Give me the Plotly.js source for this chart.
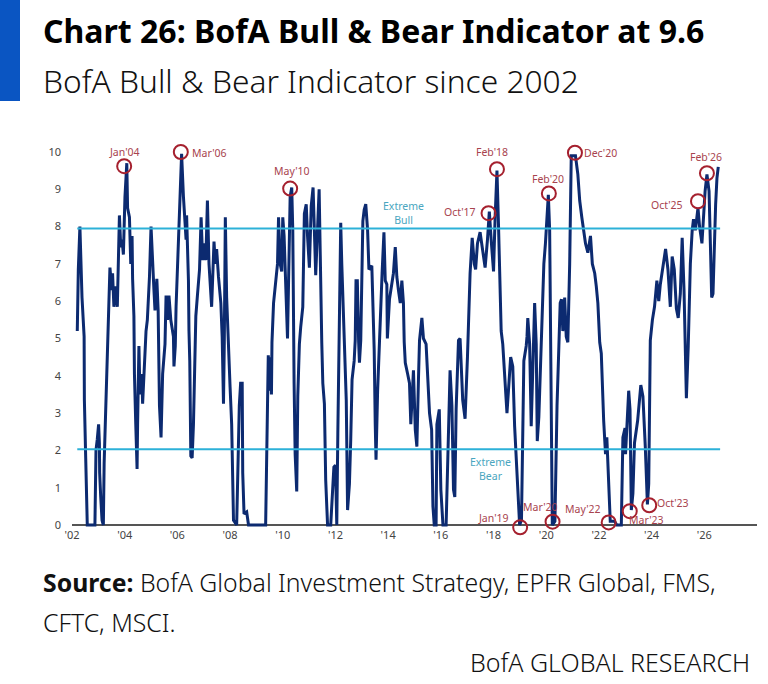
<!DOCTYPE html>
<html><head><meta charset="utf-8">
<script src="https://cdn.plot.ly/plotly-3.0.1.min.js"></script>
<style>html,body{margin:0;padding:0;background:#fff}#c{width:768px;height:684px}</style>
</head><body><div id="c"></div>
<script>
const years = [
2002.20,2002.24,2002.30,2002.33,2002.38,2002.46,2002.47,2002.52,2002.56,2002.58,2002.87,2002.91,2002.96,2003.01,2003.04,2003.05,2003.09,2003.14,2003.19,2003.22,2003.28,2003.34,2003.35,2003.39,2003.44,2003.51,2003.54,2003.59,2003.65,2003.72,2003.75,2003.80,2003.85,2003.90,2003.95,
2004.01,2004.08,2004.11,2004.18,2004.23,2004.28,2004.30,2004.35,2004.37,2004.42,2004.47,2004.49,2004.54,2004.58,2004.65,2004.68,2004.73,2004.77,2004.81,2004.86,2004.94,
2005.00,2005.05,2005.11,2005.15,2005.22,2005.27,2005.29,2005.32,2005.38,2005.44,2005.53,2005.57,2005.63,2005.68,2005.75,2005.85,2005.87,2005.92,2005.95,
2006.00,2006.10,2006.16,2006.23,2006.29,2006.33,2006.35,2006.42,2006.44,2006.47,2006.51,2006.56,2006.61,2006.65,2006.70,2006.76,2006.84,2006.90,2006.96,
2007.04,2007.08,2007.14,2007.20,2007.30,2007.39,2007.44,2007.49,2007.56,2007.65,2007.70,2007.75,2007.78,2007.82,2007.87,2007.94,
2008.00,2008.06,2008.10,2008.13,2008.25,2008.29,2008.35,2008.40,2008.46,2008.48,2008.53,2008.63,2008.70,2009.35,2009.39,2009.45,2009.52,2009.54,2009.57,2009.59,2009.65,2009.72,2009.80,2009.84,2009.90,2009.96,
2010.00,2010.05,2010.09,2010.13,2010.18,2010.28,2010.34,2010.38,2010.41,2010.43,2010.47,2010.53,2010.57,2010.63,2010.68,2010.76,2010.82,2010.89,2010.94,
2011.01,2011.08,2011.15,2011.20,2011.25,2011.38,2011.42,2011.48,2011.52,2011.58,2011.63,2011.70,2011.82,2011.89,2011.94,
2012.00,2012.05,2012.09,2012.14,2012.20,2012.24,2012.30,2012.35,2012.41,2012.46,2012.53,2012.58,2012.63,2012.71,2012.75,2012.78,2012.83,2012.88,2012.91,2012.96,
2013.04,2013.09,2013.15,2013.22,2013.27,2013.38,2013.44,2013.47,2013.51,2013.54,2013.60,2013.65,2013.70,2013.77,2013.84,2013.89,2013.95,2013.97,
2014.05,2014.14,2014.20,2014.27,2014.33,2014.39,2014.46,2014.52,2014.58,2014.61,2014.65,2014.74,2014.81,2014.86,2014.96,
2015.03,2015.09,2015.15,2015.19,2015.28,2015.34,2015.44,2015.57,2015.65,2015.70,2015.75,2015.82,2015.85,2015.94,
2016.00,2016.08,2016.20,2016.27,2016.35,2016.42,2016.48,2016.53,2016.58,2016.67,2016.73,2016.83,2016.92,
2017.01,2017.05,2017.11,2017.19,2017.27,2017.32,2017.39,2017.49,2017.58,2017.68,2017.77,2017.84,2017.92,
2018.00,2018.06,2018.13,2018.19,2018.25,2018.29,2018.35,2018.42,2018.51,2018.65,2018.73,2018.80,2018.89,2018.99,
2019.06,2019.11,2019.15,2019.24,2019.27,2019.30,2019.37,2019.43,2019.49,2019.56,2019.62,2019.66,2019.72,2019.77,2019.82,2019.91,2019.97,
2020.08,2020.13,2020.15,2020.19,2020.23,2020.33,2020.41,2020.48,2020.53,2020.58,2020.63,2020.70,2020.76,2020.82,2020.89,2020.95,
2021.11,2021.20,2021.27,2021.35,2021.43,2021.49,2021.58,2021.68,2021.75,2021.84,2021.90,2021.96,
2022.03,2022.09,2022.18,2022.25,2022.30,2022.37,2022.43,2022.59,2022.68,2022.85,2022.91,2022.99,
2023.01,2023.13,2023.18,2023.23,2023.29,2023.35,2023.47,2023.59,2023.67,2023.76,2023.84,2023.89,2023.92,2023.95,
2024.03,2024.11,2024.20,2024.27,2024.33,2024.43,2024.53,2024.62,2024.71,2024.78,2024.86,2024.94,
2025.01,2025.09,2025.16,2025.23,2025.27,2025.32,2025.39,2025.47,2025.54,2025.59,2025.66,2025.76,2025.82,2025.91,2025.97,
2026.03,2026.10,2026.18,2026.23,2026.28,2026.33,2026.38,2026.43,2026.48,2026.53];
const indicator = [
5.2,6.85,8.0,7.2,6.1,5.05,3.35,1.8,0.5,0,0,2.0,2.3,2.7,2.2,1.4,0.75,0.13,0,1.65,3.1,4.4,5.2,5.6,6.9,6.3,6.75,5.85,6.4,5.85,7.2,8.3,7.45,7.65,7.25,
8.8,9.7,8.5,8.25,7.0,7.75,6.6,5.6,4.05,2.7,1.5,2.7,4.8,3.5,4.05,3.25,4.05,4.8,5.2,5.5,6.65,
8.0,7.0,6.3,5.75,6.6,5.75,4.4,3.2,2.35,4.05,4.85,6.15,5.5,6.15,5.5,5.05,4.25,4.8,5.85,
6.85,8.45,9.95,8.8,7.9,7.65,8.3,6.55,5.2,4.4,1.85,1.8,2.7,4.4,5.6,6.15,6.85,8.25,7.1,
7.55,7.1,8.7,7.0,5.85,7.6,7.0,7.4,6.65,5.95,5.05,3.25,4.85,8.25,6.1,4.5,
3.7,2.7,1.4,0.13,0,1.4,3.2,3.8,3.8,1.4,0.3,0.35,0,0,1.8,4.55,3.6,4.5,3.5,4.9,5.95,6.4,7.0,8.25,7.0,6.8,
8.25,7.75,6.85,5.95,5.0,8.8,9.05,7.9,4.7,3.8,1.9,0.9,3.45,4.85,5.3,5.85,8.35,8.6,7.75,
6.9,8.55,9.05,7.9,6.7,9.0,7.0,4.9,3.8,3.25,1.2,0,0,1.0,1.55,
1.6,0,2.45,4.7,8.1,7.0,5.75,4.8,3.35,0.4,1.1,2.3,3.9,4.4,4.95,6.55,6.55,4.9,4.35,4.95,
8.15,8.45,8.6,7.9,6.85,6.95,5.75,4.7,2.7,1.75,3.6,4.7,5.7,6.75,7.85,6.55,6.45,5.0,
6.05,6.55,6.75,7.45,6.65,6.3,5.95,6.55,5.95,4.9,4.35,4.05,3.8,2.7,4.15,
2.55,2.1,3.9,4.95,5.55,5.0,4.85,3.0,2.55,0.5,0,0,2.7,3.1,
0.95,0,0,1.85,4.15,3.2,0.95,0.75,3.1,4.95,5.0,3.35,2.85,
4.5,5.75,6.75,7.7,7.0,6.85,7.55,7.85,7.45,6.9,7.65,8.4,7.55,
6.8,8.25,9.5,8.0,6.65,5.2,4.85,4.05,3.0,4.5,4.25,2.65,1.2,0,
0.13,2.8,4.4,4.8,5.05,5.55,4.85,2.65,4.5,5.95,4.85,2.25,2.9,4.05,5.2,7.0,7.55,
8.85,7.9,6.1,3.8,0,0.1,3.2,4.8,5.95,6.05,5.2,6.1,5.05,4.9,7.0,9.9,
9.9,9.4,8.7,8.25,7.8,7.55,7.3,7.75,7.0,6.75,6.4,5.95,
4.9,4.6,2.8,1.9,2.35,0.95,0.1,0.1,0,0,2.35,2.6,
1.9,3.6,3.1,0.4,0.85,2.2,2.8,3.75,3.45,2.1,0.55,1.1,4.05,4.95,
5.5,5.85,6.55,6.0,6.45,7.0,7.4,6.85,5.85,7.2,6.85,5.8,
5.55,6.2,7.7,6.3,5.05,3.4,4.8,7.0,7.9,8.2,7.9,8.5,8.0,7.55,8.25,
8.95,9.4,8.95,7.55,6.1,6.2,7.7,8.6,9.3,9.6];

const thresholdLevels = [7.95, 2.03];
const thresholdSpan = [2002.2, 2026.6];

const peakNames = ["Jan'04","Mar'06","May'10","Oct'17","Feb'18","Feb'20","Dec'20","Oct'25","Feb'26","Jan'19","Mar'20","May'22","Mar'23","Oct'23"];
const peakYears = [2003.98,2006.13,2010.28,2017.81,2018.13,2020.10,2021.09,2025.76,2026.10,2019.01,2020.24,2022.37,2023.17,2023.91];
const peakValues = [9.62,10.0,9.02,8.36,9.54,8.89,9.98,8.68,9.43,-0.06,0.09,0.07,0.37,0.53];
const labelYears = [2004.01,2007.20,2010.34,2016.74,2017.94,2020.08,2022.05,2024.59,2026.08,2018.00,2019.77,2021.40,2023.79,2024.81];
const labelValues = [10.0,9.97,9.49,8.39,9.99,9.28,9.97,8.58,9.87,0.20,0.49,0.43,0.13,0.59];

const xTickVals = [2002,2004,2006,2008,2010,2012,2014,2016,2018,2020,2022,2024,2026];
const xTickText = ["'02","'04","'06","'08","'10","'12","'14","'16","'18","'20","'22","'24","'26"];
const yTickVals = [0,1,2,3,4,5,6,7,8,9,10];

const W=768,H=684,L=72,R=757,T=152,B=528;
const px=x=>(x-L)/(R-L), py=y=>(B-y)/(B-T);
const BODY='"Noto Sans", sans-serif';
const pageText=(text,x,y,size,anchor,weight,color)=>({text,xref:'paper',yref:'paper',x:px(x),y:py(y),xanchor:anchor,yanchor:'middle',showarrow:false,align:'left',font:{family:BODY,size,color:color||'#111',weight:weight||400}});

const traces=[
 {type:'scatter',mode:'lines',x:years,y:indicator,line:{color:'#0c2a70',width:3},cliponaxis:false,hoverinfo:'skip'},
 ...thresholdLevels.map(v=>({type:'scatter',mode:'lines',x:thresholdSpan,y:[v,v],line:{color:'#2cb1d8',width:2},hoverinfo:'skip'})),
 {type:'scatter',mode:'markers',x:peakYears,y:peakValues,marker:{symbol:'circle-open',size:14,color:'#a5202e',line:{width:2,color:'#a5202e'}},cliponaxis:false,hoverinfo:'skip'}
];
const annotations=[
 pageText('Chart 26: BofA Bull &amp; Bear Indicator at 9.6',41,31,32,'left',700,'#000'),
 pageText('BofA Bull &amp; Bear Indicator since 2002',41,80,31.7,'left',300,'#111'),
 pageText('<b>Source:</b> BofA Global Investment Strategy, EPFR Global, FMS,',41,582,24.8,'left',300,'#111'),
 pageText('CFTC, MSCI.',41,622,24.8,'left',300,'#111'),
 pageText('BofA GLOBAL RESEARCH',752,662,25,'right',300,'#111'),
 ...peakNames.map((n,i)=>({text:n,x:labelYears[i],y:labelValues[i],xref:'x',yref:'y',showarrow:false,xanchor:'center',yanchor:'middle',font:{family:BODY,size:10.5,color:'#a8434e'}})),
 {text:'Extreme<br>Bull',x:2014.57,y:8.36,xref:'x',yref:'y',showarrow:false,font:{family:BODY,size:10.5,color:'#4aa6c0'}},
 {text:'Extreme<br>Bear',x:2017.87,y:1.5,xref:'x',yref:'y',showarrow:false,font:{family:BODY,size:10.5,color:'#4aa6c0'}}
];
const layout={
 width:W,height:H,margin:{l:L,r:W-R,t:T,b:H-B,pad:0},showlegend:false,paper_bgcolor:'#fff',plot_bgcolor:'#fff',
 xaxis:{range:[2002,2028],tickmode:'array',tickvals:xTickVals,ticktext:xTickText,showgrid:false,zeroline:false,showline:false,ticks:'',ticklabelstandoff:-1,tickfont:{family:BODY,size:11,color:'#444'}},
 yaxis:{range:[-0.08,10],tickmode:'array',tickvals:yTickVals,showgrid:false,zeroline:true,zerolinecolor:'#555',zerolinewidth:1.5,showline:false,ticks:'',ticklen:0,ticklabelstandoff:10,tickfont:{family:BODY,size:11,color:'#444'}},
 shapes:[{type:'rect',layer:'above',xref:'paper',yref:'paper',x0:px(0),x1:px(20),y0:py(101),y1:py(0),fillcolor:'#0a55c2',line:{width:0}}],
 annotations
};
Plotly.newPlot('c',traces,layout,{displayModeBar:false,staticPlot:true});
</script></body></html>
